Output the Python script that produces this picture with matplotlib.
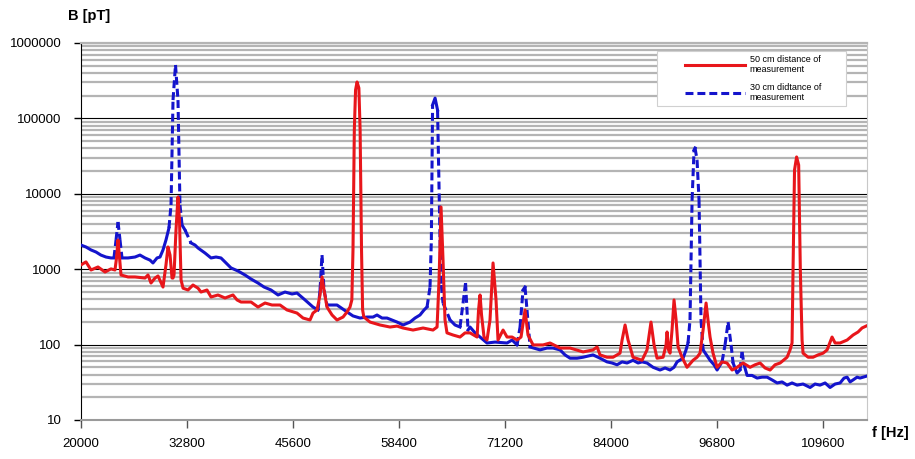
"""Magnetic flux density spectrum, 50 cm vs 30 cm measurement distance."""
import matplotlib
matplotlib.use("Agg")
import matplotlib.pyplot as plt
import numpy as np
from matplotlib.lines import Line2D
from matplotlib.patches import Rectangle
from matplotlib.ticker import FixedLocator, FuncFormatter, LogLocator, NullFormatter

plt.rcParams["font.family"] = ["Liberation Sans", "DejaVu Sans"]

# 50 cm distance of measurement (red, solid)
freq_50cm = [
    20000, 20600, 21210, 22050, 22900, 23620, 24100, 24290, 24470, 24650,
    24830, 25680, 26520, 27730, 28090, 28450, 28940, 29300, 29900, 30260,
    30500, 30750, 30990, 31110, 31230, 31470, 31710, 31890, 32080, 32320,
    32920, 33520, 34130, 34490, 35210, 35700, 36540, 37390, 38350, 38840,
    39320, 40530, 41370, 42220, 43060, 44030, 44870, 46080, 46810, 47650,
    48010, 48500, 48860, 49100, 49340, 49700, 50310, 50910, 51640, 52120,
    52480, 52700, 52840, 53000, 53150, 53330, 53550, 53700, 53870, 54000,
    54150, 54900, 56100, 57310, 58160, 58880, 60090, 61300, 62500, 62990,
    63230, 63470, 63710, 63950, 64190, 64920, 65760, 66370, 66970, 67820,
    68000, 68180, 68360, 68660, 69020, 69380, 69750, 70110, 70350, 70960,
    71440, 72050, 72650, 73130, 73610, 73970, 74580, 75790, 76630, 77840,
    79050, 80620, 81820, 82310, 82670, 83510, 84240, 85080, 85330, 85690,
    86050, 86650, 87740, 88340, 88820, 89190, 89550, 90280, 90640, 90760,
    90940, 91120, 91360, 91600, 91850, 92090, 92570, 93170, 93900, 94380,
    94740, 95110, 95470, 95770, 95950, 96310, 96800, 97400, 98000, 98610,
    99210, 99940, 100780, 101390, 101990, 102590, 103200, 103800, 104410, 105250,
    105610, 105850, 105970, 106150, 106400, 106650, 106850, 107060, 107180, 107790,
    108390, 108990, 109600, 110080, 110680, 111050, 111650, 112500, 113220, 113820,
    114300, 114790,
]
b_50cm = [
    1140, 1250, 976, 1070, 918, 1010, 976, 1410, 2440, 1410,
    838, 789, 789, 764, 838, 656, 764, 813, 580, 1140,
    1970, 1540, 764, 764, 838, 3310, 9070, 4490, 720, 560,
    530, 617, 560, 498, 530, 428, 455, 415, 455, 391,
    367, 367, 315, 356, 335, 335, 288, 262, 225, 212,
    262, 288, 455, 789, 530, 315, 247, 212, 232, 271,
    315, 391, 1800, 70000, 238000, 304000, 253000, 70000, 1800, 288,
    232, 199, 182, 171, 176, 166, 156, 166, 156, 171,
    720, 6680, 1320, 212, 143, 134, 126, 143, 143, 126,
    288, 455, 247, 126, 115, 212, 1210, 391, 115, 156,
    126, 126, 115, 126, 288, 134, 99, 99, 105, 90,
    90, 80, 85, 93, 73, 68, 68, 77, 115, 182,
    115, 68, 62, 85, 199, 99, 66, 68, 99, 147,
    85, 77, 156, 391, 212, 93, 68, 50, 62, 68,
    77, 156, 356, 182, 126, 77, 50, 59, 57, 46,
    50, 57, 50, 54, 57, 49, 46, 54, 57, 68,
    85, 105, 976, 20700, 30800, 24100, 976, 115, 77, 68,
    68, 73, 77, 85, 126, 105, 105, 115, 134, 147,
    166, 176,
]

# 30 cm distance of measurement (blue, dashed)
freq_30cm = [
    20000, 20600, 21210, 21810, 22400, 23020, 23620, 23980, 24230, 24470,
    24710, 24950, 25680, 26520, 27120, 27730, 28330, 28690, 29180, 29540,
    29900, 30260, 30620, 30870, 31110, 31410, 31710, 31950, 32200, 32560,
    33280, 33770, 34130, 34970, 35700, 36300, 36900, 37510, 38110, 38960,
    39800, 40530, 41370, 42100, 42940, 43790, 44630, 45480, 46080, 47050,
    48010, 48620, 48860, 49100, 49340, 49700, 50910, 52120, 52840, 53690,
    54530, 55260, 55740, 56350, 56950, 58160, 58880, 59730, 60330, 60930,
    61420, 61780, 62140, 62300, 62450, 62750, 63050, 63350, 63500, 63710,
    64560, 65160, 65760, 66130, 66430, 66730, 66970, 67580, 68180, 69020,
    69990, 71440, 72050, 72650, 73010, 73370, 73610, 73850, 74220, 75420,
    76270, 76990, 77840, 78440, 79050, 79890, 80620, 81820, 82670, 83510,
    84120, 84720, 85330, 85930, 86650, 87260, 87740, 88340, 89070, 89910,
    90520, 91120, 91600, 91970, 92690, 93050, 93290, 93530, 93780, 94020,
    94140, 94380, 94620, 94860, 95110, 95950, 96430, 96800, 97400, 97760,
    98130, 98490, 98730, 99210, 99570, 99810, 100060, 100420, 101020, 101630,
    102230, 102840, 103440, 104050, 104650, 105250, 105850, 106460, 107180, 108030,
    108630, 109230, 109840, 110440, 111050, 111650, 112130, 112500, 112860, 113220,
    113700, 114060, 114790,
]
b_30cm = [
    2090, 1970, 1800, 1690, 1540, 1450, 1410, 1410, 2440, 4230,
    2440, 1410, 1410, 1450, 1540, 1410, 1320, 1210, 1410, 1450,
    1800, 2440, 3520, 7100, 175000, 511000, 175000, 7100, 3850, 3310,
    2230, 2090, 1910, 1640, 1410, 1450, 1410, 1210, 1040, 946,
    838, 741, 656, 580, 530, 455, 498, 469, 483, 391,
    315, 288, 530, 1540, 530, 335, 335, 271, 240, 225,
    232, 232, 247, 225, 225, 199, 182, 199, 225, 247,
    288, 315, 580, 2440, 151000, 186000, 129000, 2440, 617, 356,
    212, 182, 171, 356, 656, 156, 171, 143, 126, 105,
    108, 105, 115, 99, 171, 530, 580, 288, 93, 85,
    90, 90, 85, 73, 66, 66, 68, 73, 66, 59,
    57, 54, 59, 57, 62, 57, 59, 57, 50, 46,
    49, 46, 50, 59, 66, 85, 105, 212, 8280, 38100,
    40500, 28000, 8280, 212, 85, 62, 54, 46, 59, 99,
    199, 99, 57, 42, 46, 80, 54, 39, 39, 36,
    37, 37, 34, 31, 32, 29, 31, 29, 30, 27,
    30, 29, 31, 27, 30, 31, 36, 37, 32, 34,
    37, 36, 38,
]

x_ticks = [20000, 32800, 45600, 58400, 71200, 84000, 96800, 109600]
y_ticks = [10, 100, 1000, 10000, 100000, 1000000]
labels = ["50 cm distance of\nmeasurement", "30 cm didtance of\nmeasurement"]

RED = "#e8161b"
BLUE = "#1414cc"
LW = 2.2
DASHES = (2.6, 1.3)


def plot_excel_dashed(ax, x, y, color, steep=0.16):
    # Excel restarts the dash pattern on every segment, so the short pieces of
    # the noisy baseline look solid and only the long peak flanks show dashes
    ly = np.log10(y)
    run_x, run_y = [x[0]], [y[0]]
    for i in range(1, len(x)):
        if abs(ly[i] - ly[i - 1]) > steep:
            if len(run_x) > 1:
                ax.plot(run_x, run_y, color=color, lw=LW, solid_joinstyle="round", zorder=3)
            ax.plot([x[i - 1], x[i]], [y[i - 1], y[i]], color=color, lw=LW,
                    dashes=DASHES, dash_capstyle="butt", zorder=3)
            run_x, run_y = [x[i]], [y[i]]
        else:
            run_x.append(x[i])
            run_y.append(y[i])
    if len(run_x) > 1:
        ax.plot(run_x, run_y, color=color, lw=LW, solid_joinstyle="round", zorder=3)


fig = plt.figure(figsize=(9.15, 4.59), dpi=100)
ax = fig.add_axes([81 / 915, 1 - 420 / 459, 786 / 915, 377 / 459])

plot_excel_dashed(ax, freq_30cm, b_30cm, BLUE)
ax.plot(freq_50cm, b_50cm, color=RED, lw=LW, solid_joinstyle="round", zorder=4)

ax.set_yscale("log")
ax.set_ylim(10, 1000000)
ax.set_xlim(20000, 114900)

ax.yaxis.set_major_locator(FixedLocator(y_ticks))
ax.yaxis.set_major_formatter(FuncFormatter(lambda v, p: f"{v:.0f}"))
ax.yaxis.set_minor_locator(LogLocator(base=10, subs=np.arange(2, 10)))
ax.yaxis.set_minor_formatter(NullFormatter())
ax.xaxis.set_major_locator(FixedLocator(x_ticks))
ax.xaxis.set_major_formatter(FuncFormatter(lambda v, p: f"{v:.0f}"))

ax.set_axisbelow(True)
ax.grid(which="minor", axis="y", color="#b4b4b4", lw=1.6)
ax.grid(which="major", axis="y", color="#000000", lw=0.8)
ax.tick_params(axis="y", which="minor", length=0)
ax.tick_params(axis="y", which="major", direction="out", length=5, width=1,
               labelsize=9.5, pad=9)
ax.tick_params(axis="x", which="major", direction="out", length=6, width=1,
               labelsize=9.5, pad=7, color="#555555")

ax.spines["left"].set_color("#000000")
ax.spines["bottom"].set_color("#9a9a9a")
ax.spines["bottom"].set_linewidth(1.5)
ax.spines["right"].set_color("#c8c8c8")
ax.spines["top"].set_color("#b4b4b4")
ax.spines["top"].set_linewidth(1.6)

fig.text(68 / 915, 1 - 16 / 459, "B [pT]", fontsize=10.5, fontweight="bold",
         ha="left", va="center")
fig.text(872 / 915, 1 - 433 / 459, "f [Hz]", fontsize=10.5, fontweight="bold",
         ha="left", va="center")

# legend box over the grid, Excel style
fig.add_artist(Rectangle((657 / 915, 1 - 106 / 459), 189 / 915, 55 / 459,
                         transform=fig.transFigure, facecolor="white",
                         edgecolor="#d0d0d0", lw=0.8, zorder=5))
handles = [
    Line2D([], [], color=RED, lw=LW),
    Line2D([], [], color=BLUE, lw=LW, dashes=DASHES, dash_capstyle="butt"),
]
leg = fig.legend(handles, labels, loc="upper left",
                 bbox_to_anchor=(685 / 915, 1 - 55 / 459), frameon=False,
                 fontsize=6.5, handlelength=6.6, handletextpad=0.55,
                 labelspacing=0.9, borderpad=0, borderaxespad=0)
leg.set_zorder(6)

fig.savefig("out.png", dpi=100)
plt.close(fig)
